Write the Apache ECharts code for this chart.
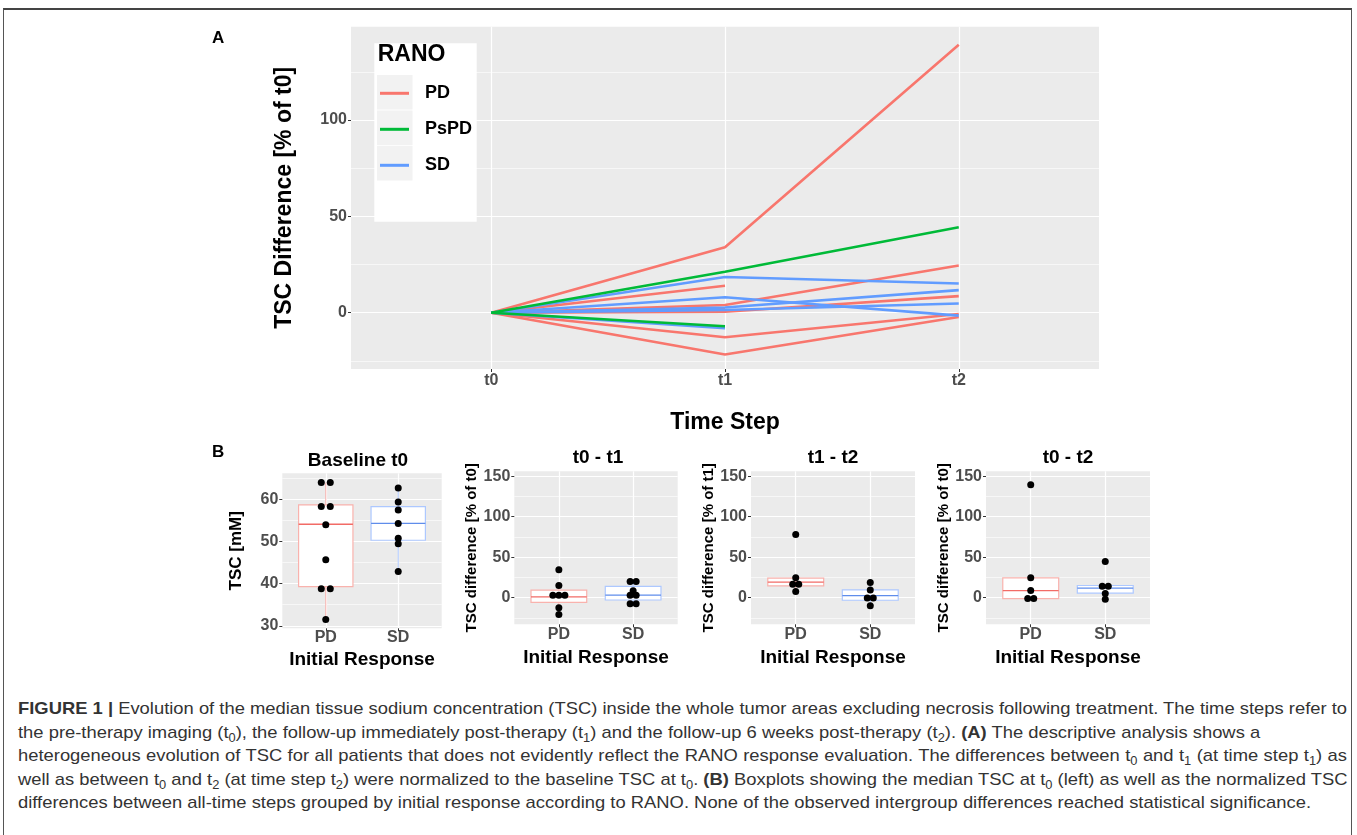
<!DOCTYPE html>
<html>
<head>
<meta charset="utf-8">
<title>TSC evolution</title>
<script src="https://cdn.jsdelivr.net/npm/echarts@6/dist/echarts.min.js"></script>
<style>
  html, body { margin: 0; padding: 0; background: #fff; }
  #frame { position: absolute; left: 3px; top: 8px; width: 1349px; height: 840px;
           border: 1px solid #555; border-top: 2px solid #444; box-sizing: border-box; }
  #main { position: absolute; left: 0; top: 0; width: 1357px; height: 690px; }
  #caption { position: absolute; left: 18px; top: 697px; transform-origin: 0 0;
             font-family: "Liberation Sans", Arial, sans-serif;
             font-size: 17px; line-height: 23.5px; color: #333; }
  #caption .ln { white-space: nowrap; }
  #caption .full { text-align: justify; text-align-last: justify; }
  #caption sub { font-size: 0.7em; line-height: 0; vertical-align: -0.3em; }
</style>
</head>
<body>
<div id="frame"></div>
<div id="main"></div>
<div id="caption">
<div class="ln full" id="ln1"><b>FIGURE 1 |</b> Evolution of the median tissue sodium concentration (TSC) inside the whole tumor areas excluding necrosis following treatment. The time steps refer to</div>
<div class="ln">the pre-therapy imaging (t<sub>0</sub>), the follow-up immediately post-therapy (t<sub>1</sub>) and the follow-up 6 weeks post-therapy (t<sub>2</sub>). <b>(A)</b> The descriptive analysis shows a</div>
<div class="ln full">heterogeneous evolution of TSC for all patients that does not evidently reflect the RANO response evaluation. The differences between t<sub>0</sub> and t<sub>1</sub> (at time step t<sub>1</sub>) as</div>
<div class="ln full">well as between t<sub>0</sub> and t<sub>2</sub> (at time step t<sub>2</sub>) were normalized to the baseline TSC at t<sub>0</sub>. <b>(B)</b> Boxplots showing the median TSC at t<sub>0</sub> (left) as well as the normalized TSC</div>
<div class="ln">differences between all-time steps grouped by initial response according to RANO. None of the observed intergroup differences reached statistical significance.</div>
</div>
<script>
// ---- panel A: TSC difference per patient (% of t0), null = no follow-up
const steps = ["t0", "t1", "t2"];
const pdLines = [
  [0, 34, 139],
  [0, 14, null],
  [0, 4, 24.5],
  [0, 2, null],
  [0, 0.5, 8.6],
  [0, -12.7, -0.7],
  [0, -21.7, -2.2]
];
const pspdLines = [
  [0, 21.3, 44.3],
  [0, -7, null]
];
const sdLines = [
  [0, 18.5, 15.2],
  [0, 8, -1.5],
  [0, 2.7, 11.7],
  [0, 1.4, 4.8],
  [0, -8, null]
];
const yTicksA = [0, 50, 100];
const yMinorA = [-25, 25, 75, 125];

// ---- panel B: boxplots by initial response
const groups = ["PD", "SD"];
const baselinePD = [64, 64, 58.3, 58.3, 54, 45.7, 38.8, 38.8, 31.5];
const baselineSD = [62.7, 59.4, 57.5, 54.3, 50.8, 49.5, 42.9];
const baselineBox = [[31.5, 39.3, 54.1, 58.7, 64], [42.9, 50.3, 54.3, 58.3, 62.7]];
const t01PD = [34.5, 15, 3, 3, 3, -12.5, -21];
const t01SD = [20, 20, 8.4, 3, 3, -7.5, -7.5];
const t01Box = [[-21, -5.8, 0.8, 9.2, 15], [-7.5, -3, 3, 13.9, 20]];
const t12PD = [78, 24.4, 16.6, 16.6, 7.4];
const t12SD = [18.6, 9.5, -0.4, -0.4, -10];
const t12Box = [[7.4, 14.5, 19, 24, 24.4], [-10, -3.3, 2.5, 9.5, 18.6]];
const t02PD = [139.3, 24.4, 8.7, -1.2, -1.2];
const t02SD = [44.6, 13.9, 13.9, 5.2, -2];
const t02Box = [[-1.2, -1.2, 8.7, 24.4, 24.4], [-2, 5.5, 11.6, 14.9, 14.9]];
const yTicksBase = [30, 40, 50, 60];
const yMinorBase = [35, 45, 55, 65];
const yTicksDiff = [0, 50, 100, 150];
const yMinorDiff = [-25, 25, 75, 125];

const RED = "#F8766D", GREEN = "#00BA38", BLUE = "#619CFF";
const boxCol = [{ pale: "#F9B2AD", strong: "#F26B66" }, { pale: "#ADC8FF", strong: "#5F8DEB" }];
const FONT = "Liberation Sans, Arial, sans-serif";
const tickText = { color: "#4D4D4D", fontWeight: "bold", fontSize: 16, fontFamily: FONT };
const tickLine = { show: true, length: 3, lineStyle: { color: "#333", width: 1 } };

// fit the caption to the figure width
(function fitCaption() {
  const cap = document.getElementById("caption");
  const w = document.getElementById("ln1").scrollWidth;
  cap.style.width = w + "px";
  cap.style.transform = "scaleX(" + (1329 / w) + ")";
})();

const chart = echarts.init(document.getElementById("main"));

const grids = [
  { left: 351, top: 26.7, width: 748, height: 342.3 },
  { left: 282.3, top: 473.3, width: 159.4, height: 155 },
  { left: 514.3, top: 471.3, width: 163.4, height: 153 },
  { left: 751, top: 471.3, width: 164, height: 153 },
  { left: 986, top: 471.3, width: 164, height: 153 }
].map(g => Object.assign({ show: true, backgroundColor: "#EBEBEB", borderWidth: 0 }, g));

function xAxisFor(gi, min, max, ticks, labels, name, nameSize, nameGap, margin) {
  return {
    gridIndex: gi, type: "value", min: min, max: max, position: "bottom",
    axisLine: { show: false, onZero: false },
    axisTick: Object.assign({ customValues: ticks }, tickLine),
    axisLabel: Object.assign({ customValues: ticks, margin: margin,
      formatter: v => labels[Math.round(v - ticks[0])] }, tickText),
    splitLine: { show: true, lineStyle: { color: "#fff", width: 1.2 } },
    name: name, nameLocation: "middle", nameGap: nameGap,
    nameTextStyle: { color: "#000", fontWeight: "bold", fontSize: nameSize, fontFamily: FONT }
  };
}
function yAxesFor(gi, min, max, ticks, minor, name, nameSize, nameGap) {
  return [{
    gridIndex: gi, type: "value", min: min, max: max, position: "left",
    axisLine: { show: false, onZero: false },
    axisTick: Object.assign({ customValues: ticks }, tickLine),
    axisLabel: Object.assign({ customValues: ticks, margin: 4 }, tickText),
    splitLine: { show: true, lineStyle: { color: "#fff", width: 1.2 } },
    name: name, nameLocation: "middle", nameGap: nameGap, nameRotate: 90,
    nameTextStyle: { color: "#000", fontWeight: "bold", fontSize: nameSize, fontFamily: FONT }
  }, {
    gridIndex: gi, type: "value", min: min, max: max, position: "left",
    axisLine: { show: false, onZero: false }, axisTick: { show: false, customValues: minor },
    axisLabel: { show: false },
    splitLine: { show: true, lineStyle: { color: "#fff", width: 0.6 } }
  }];
}

const xAxes = [
  xAxisFor(0, -0.6, 2.6, [0, 1, 2], steps, "Time Step", 23, 42, 4),
  xAxisFor(1, 0.4, 2.6, [1, 2], groups, "Initial Response", 19, 22, 1),
  xAxisFor(2, 0.4, 2.6, [1, 2], groups, "Initial Response", 19, 24, 2),
  xAxisFor(3, 0.4, 2.6, [1, 2], groups, "Initial Response", 19, 24, 2),
  xAxisFor(4, 0.4, 2.6, [1, 2], groups, "Initial Response", 19, 24, 2)
];
const yAxes = [].concat(
  yAxesFor(0, -29.2, 148.4, yTicksA, yMinorA, "TSC Difference [% of t0]", 23, 55),
  yAxesFor(1, 29.4, 66.2, yTicksBase, yMinorBase, "TSC [mM]", 17, 37),
  yAxesFor(2, -33, 156, yTicksDiff, yMinorDiff, "TSC difference [% of t0]", 15, 32),
  yAxesFor(3, -33, 156, yTicksDiff, yMinorDiff, "TSC difference [% of t1]", 15, 32),
  yAxesFor(4, -33, 156, yTicksDiff, yMinorDiff, "TSC difference [% of t0]", 15, 32)
);

// panel A series
const series = [];
function addLines(list, name, color) {
  list.forEach(arr => {
    series.push({
      name: name, type: "line", xAxisIndex: 0, yAxisIndex: 0,
      data: arr.map((v, i) => [i, v]).filter(p => p[1] !== null),
      symbol: "none", lineStyle: { color: color, width: 2.6 }, itemStyle: { color: color },
      z: 3
    });
  });
}
addLines(pdLines, "PD", RED);
addLines(sdLines, "SD", BLUE);
addLines(pspdLines, "PsPD", GREEN);

// panel B series
function renderBox(params, api) {
  const x = api.value(0);
  const lo = api.coord([x, api.value(1)]);
  const q1 = api.coord([x, api.value(2)]);
  const md = api.coord([x, api.value(3)]);
  const q3 = api.coord([x, api.value(4)]);
  const hi = api.coord([x, api.value(5)]);
  const w = api.size([0.75, 0])[0];
  const c = boxCol[x - 1];
  return {
    type: "group", children: [
      { type: "line", shape: { x1: lo[0], y1: lo[1], x2: hi[0], y2: hi[1] },
        style: { stroke: c.pale, lineWidth: 1 } },
      { type: "rect", shape: { x: q3[0] - w / 2, y: q3[1], width: w, height: q1[1] - q3[1] },
        style: { fill: "#fff", stroke: c.pale, lineWidth: 1.2 } },
      { type: "line", shape: { x1: md[0] - w / 2, y1: md[1], x2: md[0] + w / 2, y2: md[1] },
        style: { stroke: c.strong, lineWidth: 1.3 } }
    ]
  };
}
function dodge(vals, x, gap) {
  const counts = {}, seen = {};
  vals.forEach(v => { counts[v] = (counts[v] || 0) + 1; });
  return vals.map(v => {
    const k = seen[v] || 0;
    seen[v] = k + 1;
    return { value: [x, v], symbolOffset: [(k - (counts[v] - 1) / 2) * gap, 0] };
  });
}
const panels = [
  [baselineBox, baselinePD, baselineSD, 9],
  [t01Box, t01PD, t01SD, 6],
  [t12Box, t12PD, t12SD, 6],
  [t02Box, t02PD, t02SD, 6]
];
panels.forEach((p, i) => {
  const gi = i + 1;
  series.push({
    type: "custom", xAxisIndex: gi, yAxisIndex: gi * 2, renderItem: renderBox,
    encode: { x: 0, y: [1, 2, 3, 4, 5] },
    data: p[0].map((b, k) => [k + 1].concat(b)), z: 2
  });
  series.push({
    type: "scatter", xAxisIndex: gi, yAxisIndex: gi * 2, symbolSize: 7,
    itemStyle: { color: "#000", opacity: 1 },
    data: dodge(p[1], 1, p[3]).concat(dodge(p[2], 2, p[3])), z: 4
  });
});

function label(text, x, y, size, align) {
  return {
    type: "text", x: x, y: y, z: 20,
    style: { text: text, fill: "#000", fontSize: size, fontWeight: "bold", fontFamily: FONT,
             align: align || "center", textAlign: align || "center",
             verticalAlign: "middle", textVerticalAlign: "middle" }
  };
}
const keyRects = [0, 1, 2].map(i => ({
  type: "rect", z: 15, shape: { x: 377, y: 75 + i * 35.4, width: 35.5, height: 34.6 },
  style: { fill: "#F2F2F2" }
}));

chart.setOption({
  animation: false,
  textStyle: { fontFamily: FONT },
  grid: grids,
  xAxis: xAxes,
  yAxis: yAxes,
  legend: {
    data: ["PD", "PsPD", "SD"], orient: "vertical", left: 380, top: 83.3, z: 30,
    icon: "rect", itemWidth: 29, itemHeight: 3, itemGap: 16, padding: 0,
    textStyle: { color: "#000", fontWeight: "bold", fontSize: 18, lineHeight: 20,
                 padding: [0, 0, 0, 11], fontFamily: FONT },
    selectedMode: false
  },
  graphic: { elements: [
    { type: "rect", z: 14, shape: { x: 374.3, y: 43.3, width: 102.4, height: 178.4 },
      style: { fill: "#fff" } }
  ].concat(keyRects, [
    label("RANO", 377.7, 55, 23, "left"),
    label("A", 212, 38, 17, "left"),
    label("B", 212, 452, 17, "left"),
    label("Baseline t0", 358, 461, 19),
    label("t0 - t1", 598, 458, 19),
    label("t1 - t2", 833, 458, 19),
    label("t0 - t2", 1068, 458, 19)
  ]) },
  series: series
});
</script>
</body>
</html>
